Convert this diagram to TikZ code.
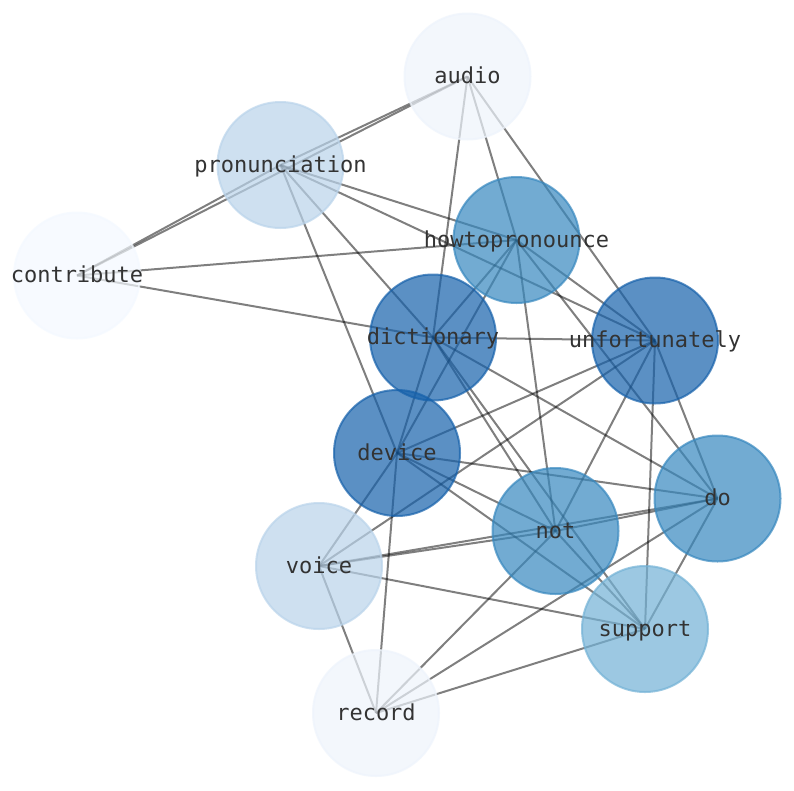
\documentclass[tikz,border=0pt]{standalone}
\usepackage{fontspec}
\newfontfamily\labelfont{DejaVu Sans Mono}
\usetikzlibrary{backgrounds}

\definecolor{deg4}{HTML}{F4F9FF}
\definecolor{deg5}{HTML}{EEF4FC}
\definecolor{deg6}{HTML}{BAD4EB}
\definecolor{deg7}{HTML}{73B2D6}
\definecolor{deg8}{HTML}{3788BF}
\definecolor{deg9}{HTML}{1661AB}

\begin{document}
\begin{tikzpicture}[x=1pt,y=-1pt,
	word/.style={circle,minimum size=126pt,inner sep=0pt,line width=2pt,draw=#1,fill=#1,fill opacity=0.7,draw opacity=0.7},
	txt/.style={font=\labelfont\fontsize{22}{26}\selectfont,text=black!80,anchor=base,yshift=-7pt,inner sep=0pt},
	every edge/.style={draw=black,draw opacity=0.5,line width=2pt}]
	\node[word=deg5] (audio) at (467.5,76.5) {};
	\node[word=deg6] (pronunciation) at (280.5,165) {};
	\node[word=deg4] (contribute) at (77,275.5) {};
	\node[word=deg8] (howtopronounce) at (516.5,240) {};
	\node[word=deg9] (dictionary) at (433,337.5) {};
	\node[word=deg9] (unfortunately) at (655,340.5) {};
	\node[word=deg9] (device) at (397,453) {};
	\node[word=deg8] (do) at (717.5,498.5) {};
	\node[word=deg8] (not) at (555.5,531) {};
	\node[word=deg6] (voice) at (319,566) {};
	\node[word=deg7] (support) at (645,629) {};
	\node[word=deg5] (record) at (376,713) {};
	
	\node[txt] (audio-t) at (audio) {audio};
	\node[txt] (pronunciation-t) at (pronunciation) {pronunciation};
	\node[txt] (contribute-t) at (contribute) {contribute};
	\node[txt] (howtopronounce-t) at (howtopronounce) {howtopronounce};
	\node[txt] (dictionary-t) at (dictionary) {dictionary};
	\node[txt] (unfortunately-t) at (unfortunately) {unfortunately};
	\node[txt] (device-t) at (device) {device};
	\node[txt] (do-t) at (do) {do};
	\node[txt] (not-t) at (not) {not};
	\node[txt] (voice-t) at (voice) {voice};
	\node[txt] (support-t) at (support) {support};
	\node[txt] (record-t) at (record) {record};
	
	\begin{scope}[on background layer]
	\fill[white] (0,0) rectangle (794,790);
	
	\path(audio.center)
	edge (pronunciation.center)
	edge (contribute.center)
	edge (howtopronounce.center)
	edge (dictionary.center)
	edge (unfortunately.center);
	
	\path(pronunciation.center)
	edge (contribute.center)
	edge (howtopronounce.center)
	edge (unfortunately.center)
	edge (dictionary.center)
	edge (device.center);
	
	\path(contribute.center)
	edge (howtopronounce.center)
	edge (dictionary.center);
	
	\path(howtopronounce.center)
	edge (dictionary.center)
	edge (device.center)
	edge (unfortunately.center)
	edge (not.center)
	edge (do.center);
	
	\path(dictionary.center)
	edge (unfortunately.center)
	edge (device.center)
	edge (not.center)
	edge (support.center)
	edge (do.center);
	
	\path(unfortunately.center)
	edge (device.center)
	edge (voice.center)
	edge (not.center)
	edge (support.center)
	edge (do.center);
	
	\path(device.center)
	edge (do.center)
	edge (not.center)
	edge (support.center)
	edge (record.center)
	edge (voice.center);
	
	\path(do.center)
	edge (not.center)
	edge (voice.center)
	edge (support.center)
	edge (record.center);
	
	\path(not.center)
	edge (voice.center)
	edge (support.center)
	edge (record.center);
	
	\path(voice.center)
	edge (support.center)
	edge (record.center);
	
	\path(support.center) edge (record.center);
	\end{scope}
\end{tikzpicture}
\end{document}
